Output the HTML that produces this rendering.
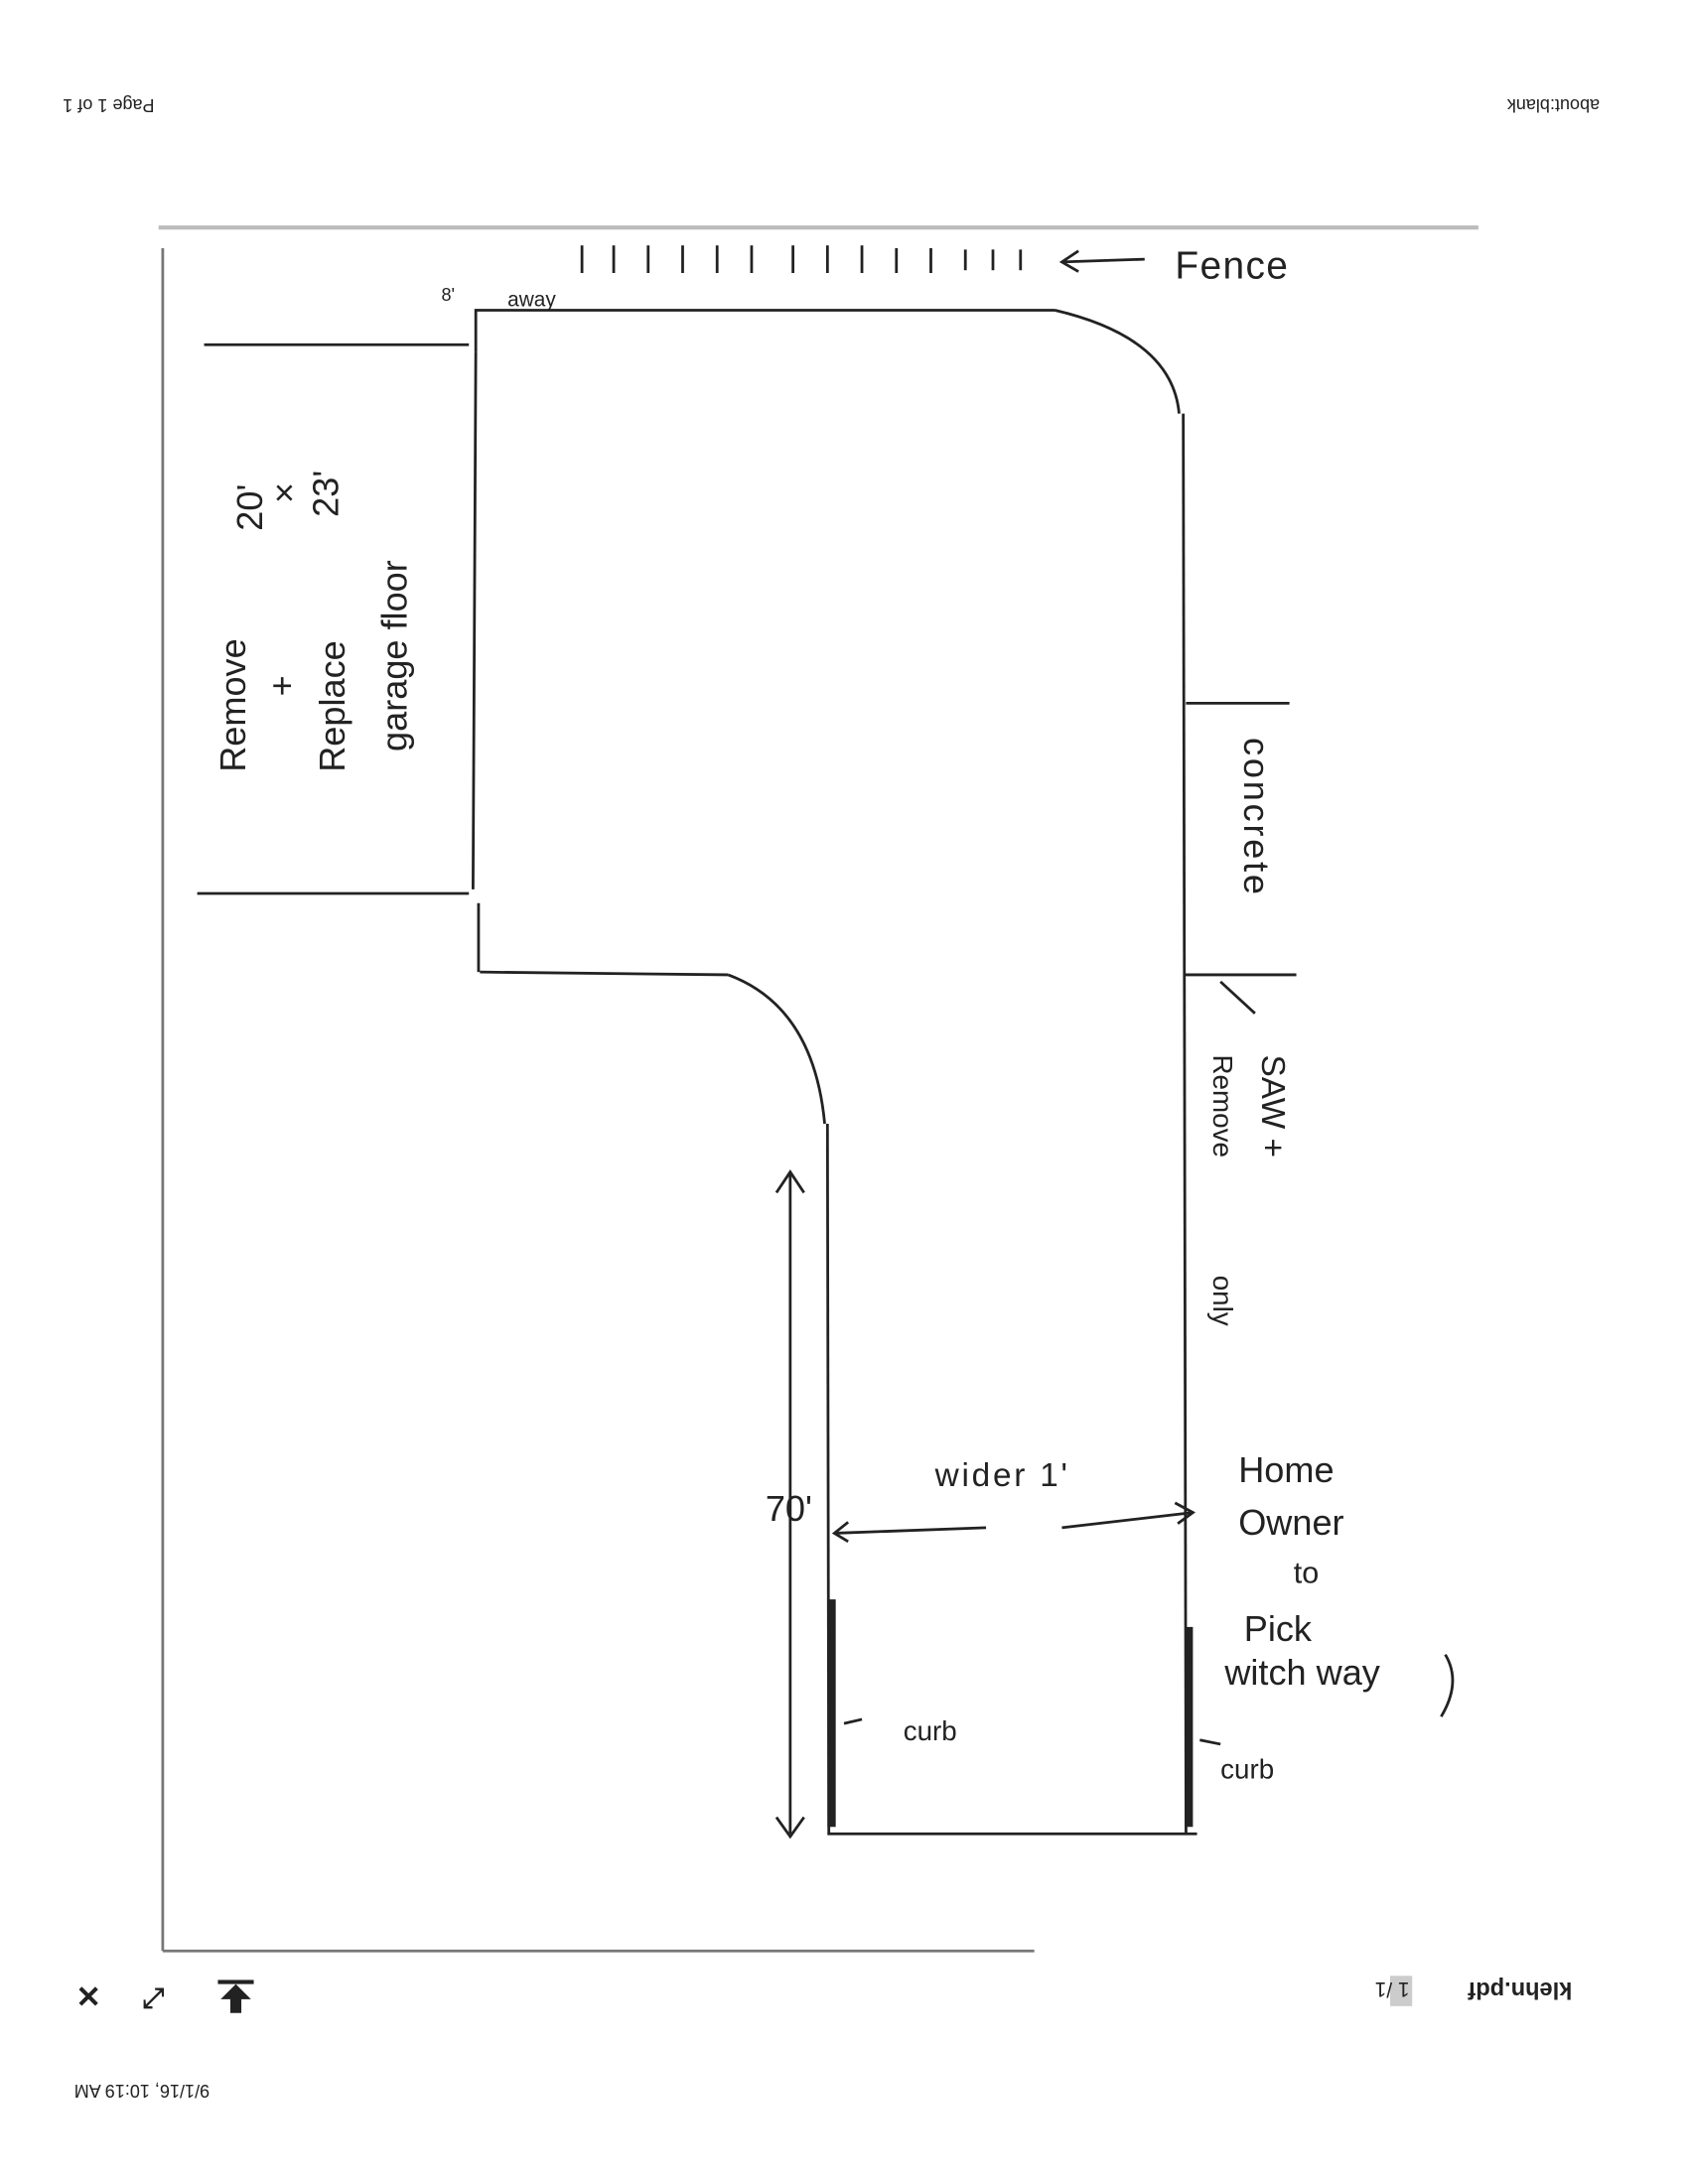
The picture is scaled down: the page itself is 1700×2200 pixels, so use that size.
<!DOCTYPE html>
<html><head><meta charset="utf-8"><style>
html,body{margin:0;padding:0;background:#fff}
svg{display:block}
text{font-family:"Liberation Sans",sans-serif;fill:#222}
</style></head><body>
<svg width="1700" height="2200" viewBox="0 0 1224 1584" xmlns="http://www.w3.org/2000/svg">
<rect width="1224" height="1584" fill="#fff"/>
<!-- upside-down header -->
<text transform="translate(1160,72) rotate(180)" font-size="13">about:blank</text>
<text transform="translate(112,72) rotate(180)" font-size="13">Page 1 of 1</text>
<text transform="translate(152,1512) rotate(180)" font-size="13">9/1/16, 10:19 AM</text>
<text transform="translate(1140,1438) rotate(180)" font-size="17" font-weight="bold">klehn.pdf</text>
<rect x="1008" y="1433" width="16" height="22" fill="#ccc"/>
<text transform="translate(1022,1438) rotate(180)" font-size="15">1 /1</text>
<text x="55" y="1456" font-size="22" font-weight="bold">✕</text>
<text x="103" y="1456" font-size="20" font-weight="bold">⤢</text>
<g fill="#222"><rect x="158" y="1436" width="26" height="3"/><polygon points="171,1439 160,1450 167,1450 167,1460 175,1460 175,1450 182,1450"/></g>
<!-- page border -->
<g stroke="#777" fill="none">
<line x1="115" y1="165" x2="1072" y2="165" stroke-width="3" stroke="#bbb"/>
<line x1="118" y1="180" x2="118" y2="1415" stroke-width="2"/>
<line x1="118" y1="1415" x2="750" y2="1415" stroke-width="2"/>
</g>
<!-- fence -->
<g stroke="#222" stroke-width="2">
<line x1="422" y1="178" x2="422" y2="198"/><line x1="445" y1="178" x2="445" y2="198"/>
<line x1="470" y1="178" x2="470" y2="198"/><line x1="495" y1="178" x2="495" y2="198"/>
<line x1="520" y1="178" x2="520" y2="198"/><line x1="545" y1="178" x2="545" y2="198"/>
<line x1="575" y1="178" x2="575" y2="198"/><line x1="600" y1="178" x2="600" y2="198"/>
<line x1="625" y1="178" x2="625" y2="198"/><line x1="650" y1="180" x2="650" y2="198"/>
<line x1="675" y1="180" x2="675" y2="198"/><line x1="700" y1="181" x2="700" y2="196"/>
<line x1="720" y1="181" x2="720" y2="196"/><line x1="740" y1="181" x2="740" y2="196"/>
<line x1="770" y1="190" x2="830" y2="188"/><polyline points="782,182 770,190 782,197" fill="none"/>
</g>
<text x="852" y="202" font-size="28" letter-spacing="1">Fence</text>
<text x="320" y="218" font-size="13">8'</text>
<text x="368" y="222" font-size="15">away</text>
<!-- driveway -->
<g stroke="#222" stroke-width="2" fill="none">
<polyline points="345,255 345,225 765,225"/>
<path d="M765,225 Q850,245 855,300"/>
<line x1="858" y1="300" x2="860" y2="1330"/>
<line x1="600" y1="1330" x2="868" y2="1330"/>
<line x1="600" y1="815" x2="601" y2="1330"/>
<path d="M528,707 Q590,730 598,815"/>
<line x1="348" y1="705" x2="528" y2="707"/>
<line x1="345" y1="255" x2="343" y2="645"/>
<line x1="347" y1="655" x2="347" y2="705"/>
<line x1="148" y1="250" x2="340" y2="250"/>
<line x1="143" y1="648" x2="340" y2="648"/>
<line x1="860" y1="510" x2="935" y2="510"/>
<line x1="858" y1="707" x2="940" y2="707"/>
<line x1="885" y1="712" x2="910" y2="735"/>
<line x1="573" y1="850" x2="573" y2="1330"/>
<polyline points="563,865 573,850 583,865"/><polyline points="563,1318 573,1332 583,1318"/>
<line x1="605" y1="1112" x2="715" y2="1108"/><polyline points="615,1104 605,1112 615,1118"/>
<line x1="770" y1="1108" x2="865" y2="1097"/><polyline points="852,1090 865,1097 854,1105"/>
<line x1="612" y1="1250" x2="625" y2="1247"/>
<line x1="870" y1="1262" x2="885" y2="1265"/>
<path d="M1048,1200 Q1060,1220 1045,1245"/>
</g>
<rect x="600" y="1160" width="6" height="165" fill="#222"/>
<rect x="859" y="1180" width="6" height="145" fill="#222"/>
<!-- rotated labels -->
<g font-size="26">
<text transform="translate(178,560) rotate(-90)">Remove</text>
<text transform="translate(213,505) rotate(-90)">+</text>
<text transform="translate(250,560) rotate(-90)">Replace</text>
<text transform="translate(295,545) rotate(-90)">garage floor</text>
<text transform="translate(190,385) rotate(-90)">20'</text>
<text transform="translate(215,365) rotate(-90)">×</text>
<text transform="translate(245,375) rotate(-90)">23'</text>
<text transform="translate(902,535) rotate(90)" letter-spacing="2">concrete</text>
<text transform="translate(915,765) rotate(90)" font-size="24">SAW +</text>
<text transform="translate(880,765) rotate(90)" font-size="20">Remove</text>
<text transform="translate(880,925) rotate(90)" font-size="20">only</text>
</g>
<text x="555" y="1103" font-size="26">70'</text>
<text x="678" y="1078" font-size="24" letter-spacing="2">wider 1'</text>
<g font-size="26">
<text x="898" y="1075">Home</text>
<text x="898" y="1113">Owner</text>
<text x="938" y="1148" font-size="22">to</text>
<text x="902" y="1190">Pick</text>
<text x="888" y="1222">witch way</text>
</g>
<text x="655" y="1262" font-size="20">curb</text>
<text x="885" y="1290" font-size="20">curb</text>
</svg>
</body></html>
